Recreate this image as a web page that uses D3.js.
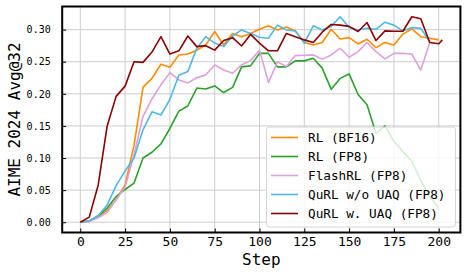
<!DOCTYPE html>
<html>
<head>
<meta charset="utf-8">
<script src="https://cdn.jsdelivr.net/npm/d3@7"></script>
<style>
  body { margin: 0; background: #fff; }
  svg { display: block; }
</style>
</head>
<body>
<div id="chart"></div>
<script>
const steps = [0, 5, 10, 15, 20, 25, 30, 35, 40, 45, 50, 55, 60, 65, 70, 75, 80, 85, 90, 95, 100,
  105, 110, 115, 120, 125, 130, 135, 140, 145, 150, 155, 160, 165, 170, 175, 180, 185, 190, 195, 200];
const redSteps = steps.concat([202]);

const rlBf16 = [0, 0.002, 0.009, 0.018, 0.035, 0.058, 0.12, 0.21, 0.224, 0.246, 0.2415, 0.2605, 0.262, 0.268,
  0.276, 0.297, 0.276, 0.294, 0.289, 0.294, 0.3005, 0.306, 0.2995, 0.304, 0.298, 0.28, 0.276, 0.28, 0.3005,
  0.2855, 0.2875, 0.2777, 0.285, 0.272, 0.28, 0.276, 0.293, 0.301, 0.289, 0.2865, 0.284];
const rlFp8 = [0, 0.002, 0.01, 0.022, 0.04, 0.051, 0.061, 0.1, 0.109, 0.122, 0.146, 0.173, 0.181, 0.209,
  0.2075, 0.2123, 0.202, 0.21, 0.242, 0.2435, 0.263, 0.263, 0.242, 0.242, 0.2513, 0.2513, 0.2555, 0.24, 0.207,
  0.224, 0.231, 0.199, 0.183, 0.138, 0.15, 0.126, 0.11, 0.095, 0.065, 0.04, 0.022];
const flashRl = [0, 0.001, 0.007, 0.015, 0.035, 0.055, 0.105, 0.165, 0.192, 0.214, 0.233, 0.2216, 0.217, 0.225,
  0.2295, 0.245, 0.237, 0.232, 0.245, 0.2517, 0.268, 0.2175, 0.25, 0.2424, 0.2595, 0.26, 0.2606, 0.254, 0.2606,
  0.271, 0.257, 0.2657, 0.28, 0.2657, 0.2544, 0.263, 0.263, 0.262, 0.237, 0.28];
const qurlWo = [0, 0.002, 0.01, 0.027, 0.057, 0.08, 0.1, 0.144, 0.172, 0.167, 0.1915, 0.229, 0.2346, 0.271,
  0.289, 0.279, 0.2735, 0.29, 0.2995, 0.294, 0.288, 0.2865, 0.307, 0.2995, 0.298, 0.279, 0.306, 0.2995, 0.305,
  0.32, 0.3035, 0.2995, 0.302, 0.3005, 0.3115, 0.307, 0.298, 0.3031, 0.302, 0.281];
const qurlW = [0, 0.008, 0.058, 0.15, 0.196, 0.212, 0.25, 0.249, 0.265, 0.289, 0.262, 0.267, 0.29, 0.2735,
  0.275, 0.268, 0.283, 0.2875, 0.2745, 0.2925, 0.279, 0.267, 0.267, 0.294, 0.289, 0.284, 0.28, 0.296, 0.308,
  0.307, 0.305, 0.297, 0.311, 0.283, 0.298, 0.2975, 0.2975, 0.32, 0.317, 0.28, 0.278, 0.284];

const names = ["RL (BF16)", "RL (FP8)", "FlashRL (FP8)", "QuRL w/o UAQ (FP8)", "QuRL w. UAQ (FP8)"];
const colors = ["#ff8c00", "#2ca02c", "#dda0dd", "#4fb8e6", "#8b0000"];
const xTicks = [0, 25, 50, 75, 100, 125, 150, 175, 200];
const yTicks = [0, 0.05, 0.1, 0.15, 0.2, 0.25, 0.3];

const series = [
  { name: names[0], color: colors[0], x: steps, y: rlBf16 },
  { name: names[1], color: colors[1], x: steps, y: rlFp8 },
  { name: names[2], color: colors[2], x: steps, y: flashRl },
  { name: names[3], color: colors[3], x: steps, y: qurlWo },
  { name: names[4], color: colors[4], x: redSteps, y: qurlW },
];

const width = 466, height = 276;
const svg = d3.select("#chart").append("svg").attr("width", width).attr("height", height);
const font = "'DejaVu Sans Mono', monospace";

const x = d3.scaleLinear().domain([-10.1, 212.1]).range([62.2, 460.4]);
const y = d3.scaleLinear().domain([-0.016, 0.336]).range([232.5, 6.5]);
const [plotL, plotR] = x.range();
const [plotB, plotT] = y.range();

// grid
svg.append("g")
  .selectAll("line")
  .data(xTicks)
  .enter().append("line")
  .attr("x1", d => x(d)).attr("x2", d => x(d))
  .attr("y1", plotT).attr("y2", plotB)
  .attr("stroke", "#cccccc").attr("stroke-width", 1);
svg.append("g")
  .selectAll("line")
  .data(yTicks)
  .enter().append("line")
  .attr("x1", plotL).attr("x2", plotR)
  .attr("y1", d => y(d)).attr("y2", d => y(d))
  .attr("stroke", "#cccccc").attr("stroke-width", 1);

// lines
const line = d3.line().x(d => x(d[0])).y(d => y(d[1]));
svg.append("g")
  .selectAll("path")
  .data(series)
  .enter().append("path")
  .attr("d", s => line(s.y.map((v, i) => [s.x[i], v])))
  .attr("fill", "none")
  .attr("stroke", s => s.color)
  .attr("stroke-width", 1.6)
  .attr("stroke-linejoin", "round");

// axes (inward ticks)
const xAxis = svg.append("g")
  .attr("transform", "translate(0," + plotB + ")")
  .call(d3.axisBottom(x).tickValues(xTicks).tickSize(-4).tickPadding(4).tickFormat(d3.format("d")));
xAxis.select(".domain").remove();
xAxis.selectAll("text").attr("font-family", font).attr("font-size", "13px").attr("fill", "#000");

const yAxis = svg.append("g")
  .attr("transform", "translate(" + plotL + ",0)")
  .call(d3.axisLeft(y).tickValues(yTicks).tickSize(-4).tickPadding(11.5).tickFormat(d3.format(".2f")));
yAxis.select(".domain").remove();
yAxis.selectAll("text").attr("font-family", font).attr("font-size", "10px").attr("fill", "#000");

// frame
svg.append("rect")
  .attr("x", plotL).attr("y", plotT)
  .attr("width", plotR - plotL).attr("height", plotB - plotT)
  .attr("fill", "none").attr("stroke", "#000").attr("stroke-width", 2);

// labels
svg.append("text")
  .attr("x", (plotL + plotR) / 2).attr("y", 265)
  .attr("text-anchor", "middle")
  .attr("font-family", font).attr("font-size", "16px")
  .text("Step");
svg.append("text")
  .attr("transform", "translate(20," + (plotT + plotB) / 2 + ") rotate(-90)")
  .attr("text-anchor", "middle")
  .attr("font-family", font).attr("font-size", "16px")
  .text("AIME 2024 Avg@32");

// legend
const legend = svg.append("g");
legend.append("rect")
  .attr("x", 266.5).attr("y", 127).attr("width", 189).attr("height", 100)
  .attr("rx", 3)
  .attr("fill", "#fff").attr("fill-opacity", 0.8)
  .attr("stroke", "#d4d4d4").attr("stroke-width", 1);
const item = legend.selectAll("g.item")
  .data(series)
  .enter().append("g")
  .attr("transform", (d, i) => "translate(0," + (137.5 + i * 19) + ")");
item.append("line")
  .attr("x1", 271).attr("x2", 298)
  .attr("stroke", d => d.color).attr("stroke-width", 1.6);
item.append("text")
  .attr("x", 308).attr("dy", "0.35em")
  .attr("font-family", font).attr("font-size", "12.7px")
  .text(d => d.name);
</script>
</body>
</html>
